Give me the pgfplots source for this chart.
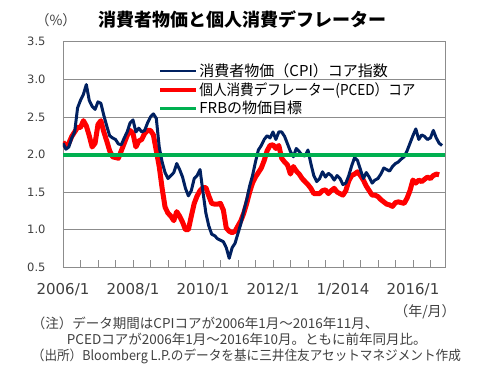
\documentclass[border=0pt]{standalone}
\usepackage{fontspec}
\setmainfont{Noto Sans CJK JP}
\newfontfamily\tickfont{DejaVu Sans}
\usepackage{pgfplots}
\usepackage{pgfplotstable}
\pgfplotsset{compat=1.18}
\definecolor{cpiblue}{HTML}{002060}
\definecolor{pcered}{HTML}{FF0000}
\definecolor{frbgreen}{HTML}{00B050}
\definecolor{gridgray}{HTML}{8C8C8C}
\definecolor{txtgray}{HTML}{404040}

\pgfplotstableread{
m v
0 2.15
1 2.07
2 2.10
3 2.22
4 2.30
5 2.62
6 2.72
7 2.80
8 2.93
9 2.72
10 2.64
11 2.60
12 2.70
13 2.68
14 2.52
15 2.38
16 2.25
17 2.22
18 2.20
19 2.14
20 2.13
21 2.22
22 2.30
23 2.42
24 2.46
25 2.30
26 2.35
27 2.30
28 2.32
29 2.42
30 2.50
31 2.54
32 2.48
33 2.10
34 1.90
35 1.76
36 1.68
37 1.72
38 1.76
39 1.88
40 1.80
41 1.70
42 1.55
43 1.45
44 1.52
45 1.68
46 1.72
47 1.80
48 1.50
49 1.22
50 1.05
51 0.94
52 0.92
53 0.88
54 0.86
55 0.84
56 0.76
57 0.62
58 0.76
59 0.82
60 0.95
61 1.08
62 1.25
63 1.40
64 1.58
65 1.72
66 1.90
67 2.06
68 2.12
69 2.20
70 2.25
71 2.22
72 2.30
73 2.20
74 2.30
75 2.30
76 2.24
77 2.14
78 2.04
79 1.97
80 2.08
81 2.04
82 1.99
83 1.98
84 2.06
85 1.88
86 1.72
87 1.64
88 1.68
89 1.77
90 1.70
91 1.75
92 1.72
93 1.66
94 1.72
95 1.68
96 1.60
97 1.62
98 1.72
99 1.85
100 1.96
101 1.92
102 1.80
103 1.68
104 1.76
105 1.70
106 1.62
107 1.66
108 1.68
109 1.74
110 1.82
111 1.80
112 1.78
113 1.84
114 1.88
115 1.90
116 1.94
117 1.97
118 2.05
119 2.15
120 2.25
121 2.34
122 2.20
123 2.26
124 2.24
125 2.20
126 2.22
127 2.32
128 2.22
129 2.15
130 2.12
}\cpitable

\pgfplotstableread{
m v
0 2.17
1 2.10
2 2.15
3 2.24
4 2.30
5 2.36
6 2.36
7 2.45
8 2.38
9 2.25
10 2.10
11 2.15
12 2.40
13 2.45
14 2.30
15 2.18
16 2.05
17 1.97
18 1.96
19 1.95
20 2.05
21 2.15
22 2.25
23 2.32
24 2.28
25 2.10
26 2.18
27 2.20
28 2.28
29 2.32
30 2.32
31 2.26
32 2.05
33 1.84
34 1.55
35 1.30
36 1.22
37 1.18
38 1.12
39 1.24
40 1.18
41 1.10
42 1.00
43 1.00
44 1.18
45 1.35
46 1.45
47 1.52
48 1.56
49 1.56
50 1.45
51 1.35
52 1.34
53 1.34
54 1.35
55 1.26
56 1.02
57 0.98
58 0.96
59 0.98
60 1.05
61 1.12
62 1.22
63 1.35
64 1.50
65 1.62
66 1.70
67 1.76
68 1.82
69 1.92
70 2.05
71 2.12
72 2.13
73 2.08
74 2.12
75 1.95
76 1.90
77 1.86
78 1.74
79 1.84
80 1.78
81 1.74
82 1.68
83 1.64
84 1.60
85 1.55
86 1.48
87 1.48
88 1.48
89 1.52
90 1.53
91 1.48
92 1.52
93 1.55
94 1.50
95 1.48
96 1.46
97 1.52
98 1.65
99 1.72
100 1.74
101 1.77
102 1.72
103 1.66
104 1.58
105 1.52
106 1.46
107 1.46
108 1.44
109 1.40
110 1.37
111 1.34
112 1.33
113 1.31
114 1.36
115 1.37
116 1.36
117 1.35
118 1.42
119 1.52
120 1.66
121 1.62
122 1.66
123 1.64
124 1.67
125 1.70
126 1.68
127 1.72
128 1.74
129 1.73
}\pcetable

\pgfplotstableread{
m v
0 2.0
131 2.0
}\frbtable

\begin{document}
\begin{tikzpicture}
\begin{axis}[
  at={(0,0)}, anchor=south west,
  scale only axis, width=382bp, height=225.6bp,
  xmin=0, xmax=131, ymin=0.5, ymax=3.5,
  ytick={0.5,1.0,1.5,2.0,2.5,3.0,3.5},
  yticklabels={0.5,1.0,1.5,2.0,2.5,3.0,3.5},
  ymajorgrids, grid style={gridgray, line width=0.8bp},
  axis line style={gridgray, line width=0.8bp},
  xtick={0,6,...,126},
  xticklabels={2006/1,,,,2008/1,,,,2010/1,,,,2012/1,,,,1/2014,,,,2016/1,,},
  xtick pos=bottom, ytick pos=left, tick align=inside,
  ytick style={draw=none},
  xtick style={gridgray, line width=0.8bp},
  major tick length=7bp,
  tick label style={text=txtgray},
  yticklabel style={font=\tickfont\fontsize{11.5bp}{13bp}\selectfont, xshift=-14bp},
  xticklabel style={font=\tickfont\fontsize{15bp}{17bp}\selectfont, yshift=-12.5bp},
  legend style={at={(0.241,0.917)}, anchor=north west, draw=none, fill=none,
    font=\fontsize{15bp}{17bp}\selectfont, row sep=2bp,
    nodes={inner sep=1.2bp}},
  legend cell align=left,
  legend image code/.code={\draw[#1] (0bp,0bp) -- (36bp,0bp);},
]
\addlegendimage{cpiblue, line width=2.5bp}
\addlegendentry{消費者物価（CPI）コア指数}
\addlegendimage{pcered, line width=4bp}
\addlegendentry{\resizebox{216bp}{\height}{個人消費デフレーター(PCED）コア}}
\addlegendimage{frbgreen, line width=3bp}
\addlegendentry{FRBの物価目標}
\addplot[forget plot, pcered, line width=5bp, line join=round] table[x=m, y=v] {\pcetable};
\addplot[forget plot, cpiblue, line width=3bp, line join=round] table[x=m, y=v] {\cpitable};
\addplot[forget plot, frbgreen, line width=4bp] table[x=m, y=v] {\frbtable};
\end{axis}
\node[font=\bfseries\fontsize{18bp}{20bp}\selectfont] at (179.5bp,248bp) {消費者物価と個人消費デフレーター};
\node[font=\fontsize{14bp}{16bp}\selectfont, text=txtgray] at (-7bp,247.5bp) {（\%）};
\node[font=\fontsize{14bp}{16bp}\selectfont, text=txtgray] at (362bp,-44.7bp) {（年/月）};
\node[anchor=west, inner sep=0pt, font=\fontsize{13.5bp}{16bp}\selectfont, text=txtgray] at (-31.3bp,-56bp) {（注）データ期間はCPIコアが2006年1月～2016年11月、};
\node[anchor=west, inner sep=0pt, font=\fontsize{13.5bp}{16bp}\selectfont, text=txtgray] at (3.7bp,-72bp) {PCEDコアが2006年1月～2016年10月。ともに前年同月比。};
\node[anchor=west, inner sep=0pt, font=\fontsize{13.5bp}{16bp}\selectfont, text=txtgray] at (-31.3bp,-88.7bp) {\resizebox{429bp}{\height}{（出所）Bloomberg L.P.のデータを基に三井住友アセットマネジメント作成}};
\pgfresetboundingbox
\path (-63bp,-106.7bp) rectangle (424bp,267.3bp);
\end{tikzpicture}
\end{document}
